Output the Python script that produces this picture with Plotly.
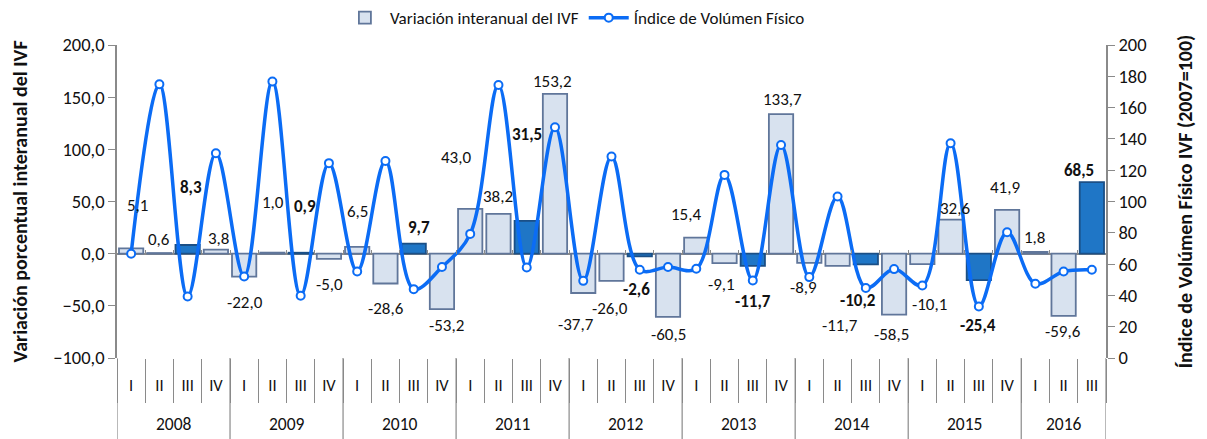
import plotly.graph_objects as go

years = ["2008"] * 4 + ["2009"] * 4 + ["2010"] * 4 + ["2011"] * 4 + ["2012"] * 4 + \
        ["2013"] * 4 + ["2014"] * 4 + ["2015"] * 4 + ["2016"] * 3
quarters = ["I", "II", "III", "IV"] * 8 + ["I", "II", "III"]

variacion = [5.1, 0.6, 8.3, 3.8,
             -22.0, 1.0, 0.9, -5.0,
             6.5, -28.6, 9.7, -53.2,
             43.0, 38.2, 31.5, 153.2,
             -37.7, -26.0, -2.6, -60.5,
             15.4, -9.1, -11.7, 133.7,
             -8.9, -11.7, -10.2, -58.5,
             -10.1, 32.6, -25.4, 41.9,
             1.8, -59.6, 68.5]

indice = [66.6, 174.9, 39.3, 130.8,
          52.1, 176.6, 39.8, 124.5,
          55.3, 125.9, 44.0, 58.1,
          79.3, 174.4, 57.8, 147.4,
          49.3, 128.7, 56.4, 58.1,
          57.0, 117.0, 49.5, 136.1,
          51.7, 103.2, 44.7, 56.8,
          46.3, 137.2, 32.9, 80.4,
          47.4, 55.3, 56.4]

left_ticks = [-100, -50, 0, 50, 100, 150, 200]
right_ticks = [0, 20, 40, 60, 80, 100, 120, 140, 160, 180, 200]

# label pixel offsets relative to bar end (style only)
label_dx = [6, 0, 3, 3, 1, 1, 4, 1, 0, 1, 5, 5, -14, 0, 0, -2, -7, -2, -3, 0,
            -10, -3, 0, 1, -6, 2, -8, -3, 7, 4, -1, -2, -1, -1, -13]
label_dy = [43, 14, 58, 11, -26, 50, 46, -26, 35, -25, 16, -16, 51, 17, 86, 12,
            -31, -28, -33, -18, 23, -21, -36, 15, -25, -60, -36, -20, -40, 11,
            -45, 22, 14, -16, 12]

FONT = "Calibri, Carlito, Lato, sans-serif"
LIGHT = "#d8e2ef"
LIGHT_EDGE = "#60769a"
DARK = "#1f76c6"
DARK_EDGE = "#1b4f86"
LINE = "#0b6cf5"
AXIS = "#8a8a8a"
TXT = "#111111"

# page body has an 8px default margin; figure sized to fit the window
W, H = 1199, 431
M_L, M_R, M_T, M_B = 109, 101, 37, 81
plot_h = H - M_T - M_B

n = len(variacion)
xs = list(range(n))
is_q3 = [q == "III" for q in quarters]

fig = go.Figure()
fig.add_trace(go.Bar(
    x=xs, y=variacion, name="Variación interanual del IVF",
    marker=dict(color=[DARK if b else LIGHT for b in is_q3],
                line=dict(color=[DARK_EDGE if b else LIGHT_EDGE for b in is_q3], width=1.8)),
    yaxis="y", showlegend=True,
))
fig.add_trace(go.Scatter(
    x=xs, y=indice, name="Índice de Volúmen Físico",
    mode="lines+markers", line=dict(color=LINE, width=3.5, shape="spline", smoothing=1.0),
    marker=dict(symbol="circle", size=8, color="white", line=dict(color=LINE, width=2)),
    yaxis="y2",
))

def fmt(v):
    return f"{v:.1f}".replace(".", ",")

for i, v in enumerate(variacion):
    txt = f"<b>{fmt(v)}</b>" if is_q3[i] else fmt(v)
    fig.add_annotation(x=i, y=v, xref="x", yref="y", text=txt, showarrow=False,
                       xshift=label_dx[i], yshift=label_dy[i],
                       font=dict(family=FONT, size=17, color=TXT))

# year groups: labels and dividers
year_order = []
for y in years:
    if y not in year_order:
        year_order.append(y)
bounds = [-0.5]
for y in year_order:
    idx = [i for i, yy in enumerate(years) if yy == y]
    fig.add_annotation(x=sum(idx) / len(idx), y=0, xref="x", yref="paper",
                       yanchor="top", yshift=-53, text=y, showarrow=False,
                       font=dict(family=FONT, size=17.5, color=TXT))
    bounds.append(idx[-1] + 0.5)
for b in bounds:
    fig.add_shape(type="line", xref="x", yref="paper", x0=b, x1=b,
                  y0=0, y1=-M_B / plot_h, line=dict(color=AXIS, width=1.2))

cat_bounds = [i - 0.5 for i in range(n + 1)]
zero_pos = (0 - left_ticks[0]) / (left_ticks[-1] - left_ticks[0])

fig.update_layout(
    width=W, height=H,
    margin=dict(l=M_L, r=M_R, t=M_T, b=M_B, autoexpand=False),
    paper_bgcolor="white", plot_bgcolor="white",
    separators=", ",
    bargap=0.14,
    font=dict(family=FONT, size=17, color=TXT),
    legend=dict(orientation="h", x=0.463, xanchor="center", y=1.086, yanchor="middle",
                yref="paper",
                font=dict(family=FONT, size=17, color=TXT),
                itemwidth=40, bgcolor="rgba(0,0,0,0)"),
    xaxis=dict(range=[-0.5, n - 0.5], automargin=False, showgrid=False, showline=False,
               zeroline=False,
               tickmode="array", tickvals=xs, ticktext=quarters, ticks="",
               ticklabelstandoff=15,
               tickfont=dict(family=FONT, size=16.5, color=TXT),
               minor=dict(tickmode="array", tickvals=cat_bounds, ticks="outside",
                          ticklen=44, tickcolor=AXIS, tickwidth=1.2, showgrid=False)),
    xaxis2=dict(range=[-0.5, n - 0.5], overlaying="x", anchor="free", position=zero_pos,
                automargin=False, showgrid=False, showline=False, zeroline=False,
                showticklabels=False, tickmode="array", tickvals=cat_bounds,
                ticks="inside", ticklen=4, tickcolor=AXIS, tickwidth=1.2),
    yaxis=dict(range=[left_ticks[0], left_ticks[-1]], tickvals=left_ticks, tickformat=".1f",
               automargin=False,
               showgrid=False, showline=True, linecolor=AXIS, linewidth=1.5,
               ticks="outside", ticklen=7, tickcolor=AXIS,
               zeroline=True, zerolinecolor=AXIS, zerolinewidth=1.5,
               tickfont=dict(family=FONT, size=18.5, color=TXT),
               title=dict(text="<b>Variación porcentual interanual del IVF</b>",
                          font=dict(family=FONT, size=20, color=TXT), standoff=22)),
    yaxis2=dict(range=[right_ticks[0], right_ticks[-1]], tickvals=right_ticks,
                overlaying="y", side="right", automargin=False,
                showgrid=False, showline=True, linecolor=AXIS, linewidth=1.5,
                ticks="outside", ticklen=7, tickcolor=AXIS, zeroline=False,
                tickfont=dict(family=FONT, size=18.5, color=TXT),
                title=dict(text="<b>Índice de Volúmen Físico IVF (2007=100)</b>",
                           font=dict(family=FONT, size=20, color=TXT), standoff=32)),
)
# invisible trace to realize the zero-line category tick axis
fig.add_trace(go.Scatter(x=[xs[0]], y=[0], xaxis="x2", yaxis="y", mode="markers",
                         marker=dict(opacity=0), showlegend=False, hoverinfo="skip"))

fig.write_html("out.html")
